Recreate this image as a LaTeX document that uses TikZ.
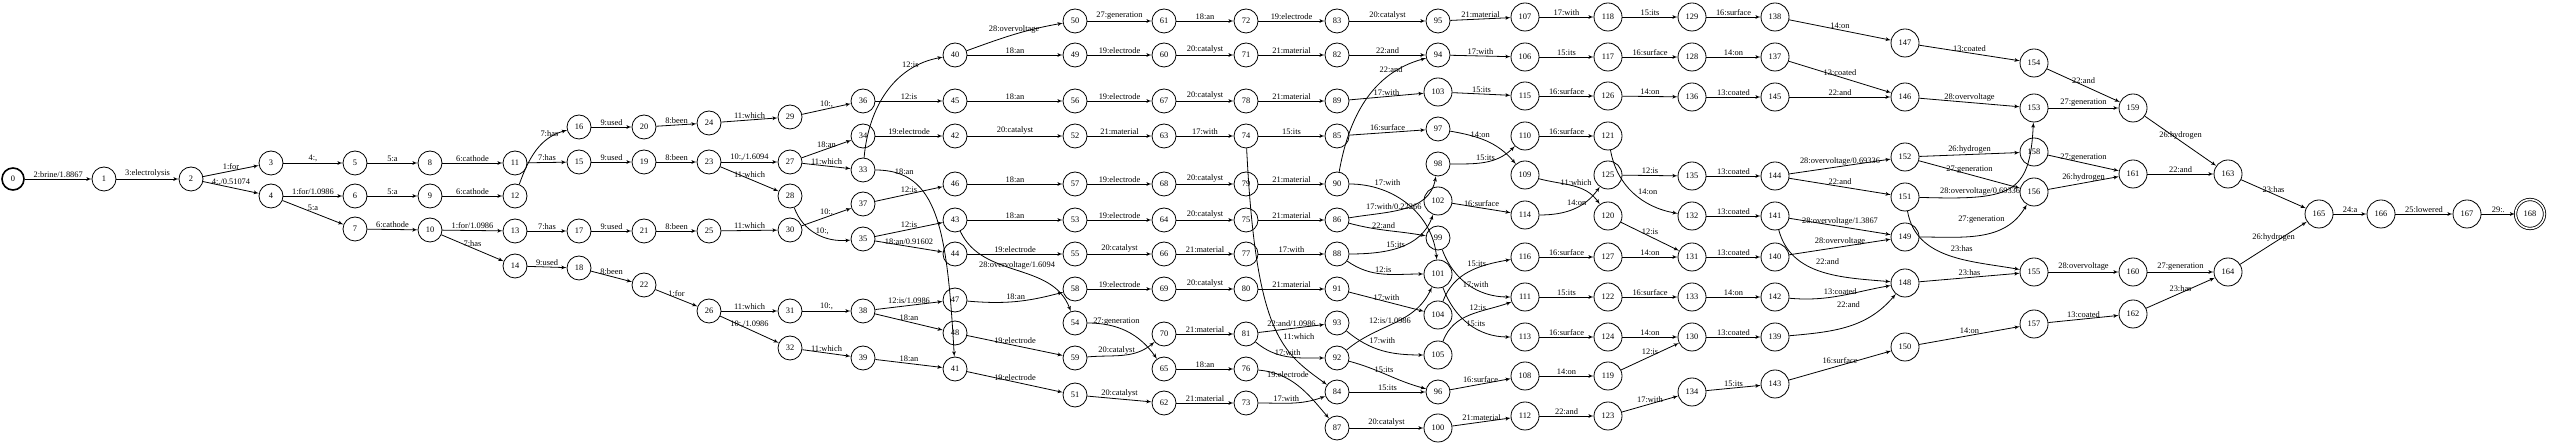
\documentclass[tikz,border=0pt]{standalone}
\usepackage{fontspec}
\setmainfont{Liberation Serif}
\usepackage{tikz}
\usetikzlibrary{arrows}

\tikzset{
	st/.style={draw,circle,minimum size=24pt,inner sep=0pt},
	tr/.style={->},
	lab/.style={above,inner sep=1pt},
}

\begin{document}
\begin{tikzpicture}[>=latex',thick,x=1pt,y=1pt,font=\fontsize{8.4}{10}\selectfont]
		\useasboundingbox (0,0) rectangle (2550,446);
		\node[st,line width=1.6pt,minimum size=22pt] (q0) at (13,267) {0};
		\foreach \n/\x/\y in {1/104/267, 2/191/267, 3/271/283, 4/271/250, 5/355/283, 6/355/250, 7/355/217,
			8/430/283, 9/430/250, 10/430/216, 11/515/283, 12/515/250, 13/515/215, 14/515/180,
			15/579/284, 16/579/319, 17/579/215, 18/579/178, 19/644/284, 20/644/319, 21/644/215, 22/644/161,
			23/709/284, 24/709/323, 25/709/215, 26/709/135, 27/790/284, 28/790/250, 29/790/329, 30/790/216,
			31/790/135, 32/790/98, 33/863/276, 34/863/310, 35/863/207, 36/863/345, 37/863/242, 38/863/135,
			39/863/88, 40/955/391, 41/955/77, 42/955/310, 43/955/226, 44/955/192, 45/955/345, 46/955/262,
			47/955/146, 48/955/113, 49/1075/391, 50/1075/425, 51/1075/51, 52/1075/310, 53/1075/226,
			54/1075/123, 55/1075/192, 56/1075/345, 57/1075/262, 58/1075/157, 59/1075/88, 60/1164/391,
			61/1164/425, 62/1164/43, 63/1164/310, 64/1164/226, 65/1164/77, 66/1164/192, 67/1164/345,
			68/1164/262, 69/1164/157, 70/1164/112, 71/1246/391, 72/1246/425, 73/1246/43, 74/1246/310,
			75/1246/226, 76/1246/77, 77/1246/192, 78/1246/345, 79/1246/262, 80/1246/157, 81/1246/112,
			82/1337/391, 83/1337/425, 84/1337/54, 85/1337/310, 86/1337/226, 87/1337/18, 88/1337/192,
			89/1337/345, 90/1337/262, 91/1337/157, 92/1337/88, 93/1337/123, 94/1438/391, 95/1438/425,
			96/1438/54, 97/1438/317, 98/1438/282, 99/1438/208}
			\node[st] (q\n) at (\x,\y) {\n};
		\foreach \n/\x/\y in {100/1438/18, 101/1438/172, 102/1438/245, 103/1438/354, 104/1438/131, 105/1438/91,
			106/1525/389, 107/1525/429, 108/1525/70, 109/1525/271, 110/1525/310, 111/1525/149, 112/1525/30,
			113/1525/109, 114/1525/231, 115/1525/350, 116/1525/189, 117/1608/389, 118/1608/429, 119/1608/70,
			120/1608/230, 121/1608/310, 122/1608/149, 123/1608/30, 124/1608/109, 125/1608/271, 126/1608/350,
			127/1608/189, 128/1692/389, 129/1692/429, 130/1692/109, 131/1692/189, 132/1692/230, 133/1692/149,
			134/1692/54, 135/1692/270, 136/1692/349, 137/1775/389, 138/1775/429, 139/1775/109, 140/1775/189,
			141/1775/230, 142/1775/149, 143/1775/62, 144/1775/270, 145/1775/349, 146/1905/349, 147/1905/403,
			148/1905/163, 149/1905/209, 150/1905/99, 151/1905/249, 152/1905/289, 153/2034/338, 154/2034/383,
			155/2034/174, 156/2034/254, 157/2034/122, 158/2034/294, 159/2133/338, 160/2133/174, 161/2133/272,
			162/2133/132, 163/2228/272, 164/2228/174, 165/2319/232, 166/2381/232, 167/2467/232}
			\node[st,minimum size=28pt] (q\n) at (\x,\y) {\n};
		\node[st,double,double distance=1.6pt,minimum size=29pt] (q168) at (2530,232) {168};

		% straight transitions
		\foreach \i/\j/\txt in {0/1/{2:brine/1.8867}, 1/2/{3:electrolysis}, 2/3/{1:for}, 2/4/{4:,/0.51074},
			3/5/{4:,}, 4/6/{1:for/1.0986}, 4/7/{5:a}, 5/8/{5:a}, 6/9/{5:a}, 7/10/{6:cathode}, 8/11/{6:cathode},
			9/12/{6:cathode}, 10/13/{1:for/1.0986}, 10/14/{7:has}, 11/15/{7:has}, 13/17/{7:has}, 14/18/{9:used},
			15/19/{9:used}, 16/20/{9:used}, 17/21/{9:used}, 18/22/{8:been}, 19/23/{8:been}, 20/24/{8:been},
			21/25/{8:been}, 22/26/{1:for}, 23/27/{10:,/1.6094}, 23/28/{11:which}, 24/29/{11:which},
			25/30/{11:which}, 26/31/{11:which}, 26/32/{10:,/1.0986}, 27/34/{18:an}, 27/33/{11:which},
			29/36/{10:,}, 30/37/{10:,}, 31/38/{10:,}, 32/39/{11:which}, 34/42/{19:electrode}, 35/43/{12:is},
			35/44/{18:an/0.91602}, 36/45/{12:is}, 37/46/{12:is}, 38/47/{12:is/1.0986}, 38/48/{18:an},
			39/41/{18:an}, 40/49/{18:an}, 41/51/{19:electrode}, 42/52/{20:catalyst}, 43/53/{18:an},
			44/55/{19:electrode}, 45/56/{18:an}, 46/57/{18:an}, 48/59/{19:electrode}, 49/60/{19:electrode},
			50/61/{27:generation}, 51/62/{20:catalyst}, 52/63/{21:material}, 53/64/{19:electrode},
			55/66/{20:catalyst}, 56/67/{19:electrode}, 57/68/{19:electrode}, 58/69/{19:electrode},
			60/71/{20:catalyst}, 61/72/{18:an}, 62/73/{21:material}, 63/74/{17:with}, 64/75/{20:catalyst},
			65/76/{18:an}, 66/77/{21:material}, 67/78/{20:catalyst}, 68/79/{20:catalyst}, 69/80/{20:catalyst},
			70/81/{21:material}, 71/82/{21:material}, 72/83/{19:electrode}, 74/85/{15:its}, 75/86/{21:material},
			77/88/{17:with}, 78/89/{21:material}, 79/90/{21:material}, 80/91/{21:material},
			81/93/{22:and/1.0986}, 82/94/{22:and}, 83/95/{20:catalyst}, 84/96/{15:its}, 85/97/{16:surface},
			87/100/{20:catalyst}, 89/103/{17:with}, 91/104/{17:with}, 94/106/{17:with}, 95/107/{21:material},
			96/108/{16:surface}, 100/112/{21:material}, 102/114/{16:surface}, 103/115/{15:its}, 106/117/{15:its},
			107/118/{17:with}, 108/119/{14:on}, 110/121/{16:surface}, 111/122/{15:its}, 112/123/{22:and},
			113/124/{16:surface}, 115/126/{16:surface}, 116/127/{16:surface}, 117/128/{16:surface},
			118/129/{15:its}, 119/130/{12:is}, 120/131/{12:is}, 122/133/{16:surface}, 123/134/{17:with},
			124/130/{14:on}, 125/135/{12:is}, 126/136/{14:on}, 127/131/{14:on}, 128/137/{14:on},
			129/138/{16:surface}, 130/139/{13:coated}, 131/140/{13:coated}, 132/141/{13:coated}, 133/142/{14:on},
			134/143/{15:its}, 135/144/{13:coated}, 136/145/{13:coated}, 137/146/{13:coated}, 138/147/{14:on},
			140/149/{28:overvoltage}, 141/149/{28:overvoltage/1.3867}, 143/150/{16:surface},
			144/152/{28:overvoltage/0.69336}, 144/151/{22:and}, 145/146/{22:and}, 146/153/{28:overvoltage},
			147/154/{13:coated}, 148/155/{23:has}, 150/157/{14:on}, 152/158/{26:hydrogen},
			152/156/{27:generation}, 153/159/{27:generation}, 154/159/{22:and}, 155/160/{28:overvoltage},
			156/161/{26:hydrogen}, 157/162/{13:coated}, 158/161/{27:generation}, 159/163/{26:hydrogen},
			160/164/{27:generation}, 161/163/{22:and}, 162/164/{23:has}, 163/165/{23:has},
			164/165/{26:hydrogen}, 165/166/{24:a}, 166/167/{25:lowered}, 167/168/{29:.}}
			\draw[tr] (q\i) -- node[lab] {\txt} (q\j);

		% curved transitions
		\draw[tr] (q12) to[out=70,in=195] node[lab,pos=.75] {7:has} (q16);
		\draw[tr] (q28) to[out=-70,in=185] node[lab,pos=.6] {10:,} (q35);
		\draw[tr] (q33) to[out=85,in=190] node[lab,pos=.75] {12:is} (q40);
		\draw[tr] (q33) .. controls +(75,0) and +(-8,140) .. node[lab,pos=.18] {18:an} (q41);
		\draw[tr] (q40) to[out=20,in=190] node[lab] {28:overvoltage} (q50);
		\draw[tr] (q43) to[out=-65,in=110] node[lab] {28:overvoltage/1.6094} (q54);
		\draw[tr] (q47) to[out=-5,in=195] node[lab] {18:an} (q58);
		\draw[tr] (q54) to[out=0,in=125] node[lab,pos=.35] {27:generation} (q65);
		\draw[tr] (q59) to[out=5,in=-140] node[lab,pos=.4] {20:catalyst} (q70);
		\draw[tr] (q74) .. controls +(10,-200) and +(-55,40) .. node[lab,pos=.6,above right] {11:which} (q84);
		\draw[tr] (q73) to[out=0,in=200] node[lab,pos=.4] {17:with} (q84);
		\draw[tr] (q76) to[out=-5,in=130] node[lab,pos=.35] {19:electrode} (q87);
		\draw[tr] (q81) to[out=-40,in=180] node[lab] {17:with} (q92);
		\draw[tr] (q86) to[out=10,in=-100] node[lab,pos=.4] {17:with/0.22266} (q98);
		\draw[tr] (q86) to[out=-15,in=170] node[lab,pos=.45] {22:and} (q99);
		\draw[tr] (q88) to[out=0,in=-110] node[lab,pos=.45] {15:its} (q102);
		\draw[tr] (q88) to[out=-35,in=180] node[lab] {12:is} (q101);
		\draw[tr] (q90) to[out=80,in=195] node[lab,pos=.75] {22:and} (q94);
		\draw[tr] (q90) to[out=0,in=95] node[lab,pos=.3,above=5pt] {17:with} (q101);
		\draw[tr] (q92) to[out=40,in=-115] node[lab,pos=.45] {12:is/1.0986} (q101);
		\draw[tr] (q92) to[out=-15,in=165] node[lab,pos=.45] {15:its} (q96);
		\draw[tr] (q93) to[out=-40,in=180] node[lab,above=6pt] {17:with} (q105);
		\draw[tr] (q97) to[out=-10,in=130] node[lab,pos=.4] {14:on} (q109);
		\draw[tr] (q98) to[out=0,in=-135] node[lab] {15:its} (q110);
		\draw[tr] (q99) to[out=-70,in=180] node[lab,pos=.6] {17:with} (q111);
		\draw[tr] (q101) to[out=-70,in=180] node[lab,pos=.6] {15:its} (q113);
		\draw[tr] (q104) to[out=70,in=190] node[lab,pos=.6] {15:its} (q116);
		\draw[tr] (q105) to[out=70,in=200] node[lab,pos=.6] {12:is} (q111);
		\draw[tr] (q109) to[out=-15,in=125] node[lab,pos=.55] {11:which} (q120);
		\draw[tr] (q114) to[out=0,in=-125] node[lab,pos=.55] {14:on} (q125);
		\draw[tr] (q121) to[out=-80,in=170] node[lab,pos=.55,above right] {14:on} (q132);
		\draw[tr] (q139) to[out=5,in=-130] node[lab,above=17pt] {22:and} (q148);
		\draw[tr] (q141) to[out=-75,in=175] node[lab,pos=.55,above=8pt] {22:and} (q148);
		\draw[tr] (q142) to[out=-5,in=190] node[lab] {13:coated} (q148);
		\draw[tr] (q149) to[out=0,in=-120] node[lab,above=10pt] {27:generation} (q156);
		\draw[tr] (q151) .. controls +(105,-3) and +(-4,-88) .. node[lab,pos=.28] {28:overvoltage/0.69336} (q153);
		\draw[tr] (q151) to[out=-80,in=170] node[lab,pos=.6,above=6pt] {23:has} (q155);
	\end{tikzpicture}
\end{document}
